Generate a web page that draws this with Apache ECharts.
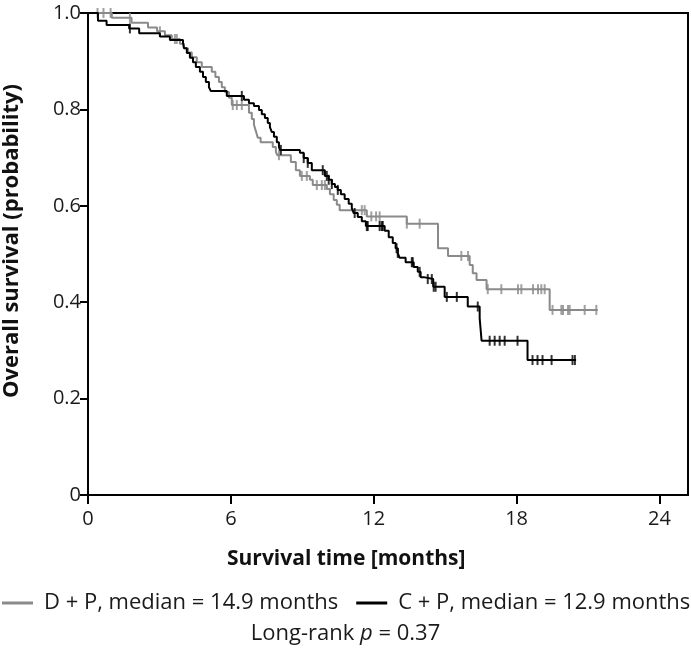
<!DOCTYPE html>
<html>
<head>
<meta charset="utf-8">
<script src="https://cdn.jsdelivr.net/npm/echarts@6/dist/echarts.min.js"></script>
<style>
html,body{margin:0;padding:0;background:#fff;}
#chart{width:691px;height:653px;}
</style>
</head>
<body>
<div id="chart"></div>
<script>
// ---- Data ----
var xTicks = [0, 6, 12, 18, 24];
var yTicks = [0, 0.2, 0.4, 0.6, 0.8, 1.0];

var seriesNames = ['D + P, median = 14.9 months', 'C + P, median = 12.9 months'];

// D + P (grey): event times (months) and survival after each step
var dpTime = [0, 1.0, 1.83, 2.52, 2.9, 3.23, 3.52, 3.86, 4.03, 4.20, 4.36, 4.57, 4.78, 5.20, 5.35, 5.50, 5.62, 5.75, 5.92, 6.04,
  6.76, 6.88, 6.97, 7.05, 7.13, 7.25, 7.76, 7.89, 7.95, 8.52, 8.73, 8.90, 9.32, 9.44, 10.03, 10.16, 10.32, 10.45, 10.57,
  11.71, 13.39, 14.70, 15.12, 16.03, 16.16, 16.32, 16.74, 19.39, 21.41];
var dpSurv = [1.0, 0.99, 0.98, 0.97, 0.962, 0.954, 0.946, 0.936, 0.927, 0.918, 0.908, 0.898, 0.888, 0.878, 0.867, 0.857, 0.846, 0.836, 0.824, 0.809,
  0.793, 0.780, 0.768, 0.755, 0.741, 0.732, 0.722, 0.712, 0.705, 0.691, 0.674, 0.662, 0.654, 0.643, 0.635, 0.624, 0.612, 0.602, 0.591,
  0.578, 0.563, 0.512, 0.496, 0.477, 0.460, 0.446, 0.427, 0.384, 0.384];
var dpCensor = [0.40, 0.65, 0.95, 1.76, 3.02, 3.65, 3.73, 6.08, 6.25, 6.46, 8.02, 8.98, 9.19, 9.61, 9.82, 9.95, 11.50, 11.62,
  11.90, 12.10, 12.25, 13.39, 13.93, 15.68, 15.96, 16.79, 17.36, 18.06, 18.20, 18.69, 18.90, 19.04, 19.18, 19.51, 19.88,
  19.95, 20.16, 20.23, 20.86, 21.35];

// C + P (black)
var cpTime = [0, 0.42, 0.78, 1.73, 2.15, 3.02, 3.44, 3.99, 4.03, 4.15, 4.28, 4.41, 4.53, 4.70, 4.83, 4.95, 5.08, 5.16, 5.83,
  6.55, 6.76, 6.97, 7.18, 7.30, 7.43, 7.55, 7.64, 7.72, 7.81, 7.93, 8.02, 8.06, 8.90, 9.06, 9.23, 9.40, 9.95, 10.11, 10.24,
  10.37, 10.49, 10.62, 10.78, 10.95, 11.08, 11.16, 11.33, 11.50, 11.67, 12.46, 12.63, 12.80, 12.92, 13.01, 13.09, 13.34,
  13.68, 13.85, 13.97, 14.10, 14.50, 14.98, 15.95, 16.45, 16.53, 18.46, 20.50];
var cpSurv = [1.0, 0.984, 0.975, 0.968, 0.958, 0.951, 0.944, 0.938, 0.927, 0.917, 0.907, 0.898, 0.888, 0.878, 0.867, 0.857, 0.846, 0.838, 0.828,
  0.820, 0.813, 0.807, 0.799, 0.790, 0.782, 0.772, 0.763, 0.753, 0.743, 0.732, 0.722, 0.716, 0.710, 0.699, 0.689, 0.674, 0.662, 0.654, 0.645,
  0.639, 0.633, 0.624, 0.614, 0.604, 0.595, 0.585, 0.577, 0.568, 0.558, 0.548, 0.535, 0.523, 0.512, 0.502, 0.492, 0.483,
  0.473, 0.463, 0.452, 0.448, 0.432, 0.411, 0.391, 0.367, 0.320, 0.280, 0.280];
var cpCensor = [1.76, 6.46, 8.10, 9.06, 9.23, 9.86, 10.03, 10.11, 10.24, 10.49, 11.20, 11.71, 11.75, 12.25, 12.34, 12.38,
  12.96, 13.01, 13.60, 13.64, 13.93, 14.27, 14.44, 14.52, 14.60, 15.07, 15.49, 16.37, 16.87, 17.08, 17.29, 17.50, 18.04,
  18.67, 18.88, 19.09, 19.47, 20.35, 20.45];

var pText = 'Long-rank ';
var pValue = ' = 0.37';

var GREY = '#8a8a8a', BLACK = '#000000';
var FONT = '"Open Sans", "Noto Sans", sans-serif';

function pairs(t, s) { return t.map(function (v, i) { return [v, s[i]]; }); }
function levelAt(t, s, x) {
  var v = s[0];
  for (var i = 0; i < t.length; i++) { if (t[i] <= x) v = s[i]; }
  return v;
}
function censorPts(t, s, c) { return c.map(function (x) { return [x, levelAt(t, s, x)]; }); }

var chart = echarts.init(document.getElementById('chart'), null, { renderer: 'canvas' });
chart.setOption({
  backgroundColor: '#fff',
  animation: false,
  grid: { left: 88, right: 3, top: 13, bottom: 158, show: true, borderColor: '#000', borderWidth: 2, backgroundColor: 'transparent' },
  xAxis: {
    type: 'value', min: 0, max: 25.2, interval: 6,
    axisLine: { show: true, lineStyle: { color: '#000', width: 2 } },
    axisTick: { show: true, length: 9, lineStyle: { color: '#000', width: 2 }, customValues: xTicks },
    axisLabel: { color: '#1a1a1a', fontSize: 20, fontFamily: FONT, margin: 14, customValues: xTicks },
    splitLine: { show: false }
  },
  yAxis: {
    type: 'value', min: 0, max: 1, interval: 0.2,
    axisLine: { show: true, lineStyle: { color: '#000', width: 2 } },
    axisTick: { show: true, length: 8, lineStyle: { color: '#000', width: 2 }, customValues: yTicks },
    axisLabel: { color: '#1a1a1a', fontSize: 20, fontFamily: FONT, margin: 7, customValues: yTicks,
      formatter: function (v) { return v === 0 ? '0' : v.toFixed(1); } },
    splitLine: { show: false }
  },
  legend: {
    data: seriesNames, left: 2, top: 592, width: 740, padding: 0, itemWidth: 31, itemHeight: 3, itemGap: 18, icon: 'rect',
    textStyle: { fontSize: 22, fontFamily: FONT, color: '#1a1a1a', padding: [0, 0, 0, 6] }
  },
  graphic: [
    { type: 'text', left: 227, top: 549, style: { text: 'Survival time [months]', font: 'bold 21px ' + FONT, fill: '#111' } },
    { type: 'text', x: 1, y: 241, rotation: Math.PI / 2, style: { text: 'Overall survival (probability)', font: 'bold 22px ' + FONT, fill: '#111', align: 'center', verticalAlign: 'top' } },
    { type: 'text', left: 'center', top: 623, style: {
      text: '{n|' + pText + '}{i|p}{n|' + pValue + '}',
      rich: { n: { fontSize: 22, fontFamily: FONT, fill: '#1a1a1a' }, i: { fontSize: 22, fontFamily: FONT, fontStyle: 'italic', fill: '#1a1a1a' } } } }
  ],
  series: [
    { name: seriesNames[0], type: 'line', step: 'end', data: pairs(dpTime, dpSurv), showSymbol: false, symbol: 'none',
      lineStyle: { color: GREY, width: 2 }, itemStyle: { color: GREY }, z: 2 },
    { name: seriesNames[1], type: 'line', step: 'end', data: pairs(cpTime, cpSurv), showSymbol: false, symbol: 'none',
      lineStyle: { color: BLACK, width: 2 }, itemStyle: { color: BLACK }, z: 3 },
    { name: seriesNames[0] + ' censored', type: 'scatter', data: censorPts(dpTime, dpSurv, dpCensor), symbol: 'rect', symbolSize: [2, 10],
      itemStyle: { color: GREY }, z: 2 },
    { name: seriesNames[1] + ' censored', type: 'scatter', data: censorPts(cpTime, cpSurv, cpCensor), symbol: 'rect', symbolSize: [2, 10],
      itemStyle: { color: BLACK }, z: 3 }
  ]
});
</script>
</body>
</html>
